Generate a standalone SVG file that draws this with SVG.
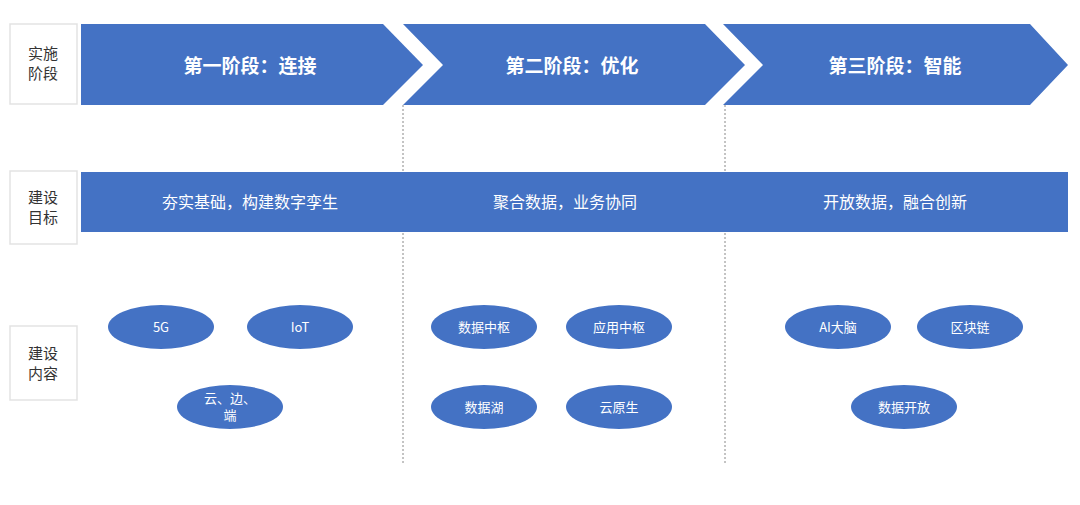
<svg xmlns="http://www.w3.org/2000/svg" width="1080" height="505" viewBox="0 0 1080 505">
<style>
.f{fill:#4472c4}
.lb{fill:#fff;stroke:#e3e3e3;stroke-width:1.5}
.lt{font-family:"Noto Sans CJK SC",sans-serif;font-size:15px;fill:#333;text-anchor:middle}
.h{font-family:"Noto Sans CJK SC",sans-serif;font-size:19px;font-weight:bold;fill:#fff;text-anchor:middle}
.g{font-family:"Noto Sans CJK SC",sans-serif;font-size:16px;fill:#fff;text-anchor:middle}
.e{font-family:"Noto Sans CJK SC","Liberation Sans",sans-serif;font-size:13px;fill:#fff;text-anchor:middle}
.d{stroke:#888;stroke-width:1;stroke-dasharray:2 2;fill:none}
</style>
<rect width="1080" height="505" fill="#fff"/>
<g id="labels">
<g id="label-stage"><rect class="lb" x="10" y="24" width="67" height="80"/><text class="lt" x="43" y="59">实施</text><text class="lt" x="43" y="79">阶段</text></g>
<g id="label-goal"><rect class="lb" x="10" y="171" width="67" height="73"/><text class="lt" x="43" y="203">建设</text><text class="lt" x="43" y="223">目标</text></g>
<g id="label-content"><rect class="lb" x="10" y="326" width="67" height="74"/><text class="lt" x="43" y="359">建设</text><text class="lt" x="43" y="379">内容</text></g>
</g>
<g id="connectors">
<line class="d" x1="403" y1="105" x2="403" y2="465"/>
<line class="d" x1="725" y1="105" x2="725" y2="465"/>
</g>
<g id="stage1"><polygon class="f" points="81,24 383,24 423,65 383,105 81,105"/><text class="h" x="250" y="73">第一阶段：连接</text></g>
<g id="stage2"><polygon class="f" points="403,24 705,24 745,65 705,105 403,105 443,65"/><text class="h" x="572" y="73">第二阶段：优化</text></g>
<g id="stage3"><polygon class="f" points="723,24 1030,24 1068,65 1030,105 723,105 763,65"/><text class="h" x="895" y="73">第三阶段：智能</text></g>
<g id="goal"><rect class="f" x="81" y="172" width="987" height="60"/>
<text class="g" x="250" y="208">夯实基础，构建数字孪生</text>
<text class="g" x="565" y="208">聚合数据，业务协同</text>
<text class="g" x="895" y="208">开放数据，融合创新</text></g>
<g id="n-5g"><ellipse class="f" cx="161" cy="327" rx="53" ry="22"/><text class="e" x="161" y="332">5G</text></g>
<g id="n-iot"><ellipse class="f" cx="300" cy="327" rx="53" ry="22"/><text class="e" x="300" y="332">IoT</text></g>
<g id="n-cloud"><ellipse class="f" cx="230" cy="407" rx="53" ry="22"/><text class="e" x="230" y="403">云、边、</text><text class="e" x="230" y="420">端</text></g>
<g id="n-dc"><ellipse class="f" cx="484" cy="327" rx="53" ry="22"/><text class="e" x="484" y="332">数据中枢</text></g>
<g id="n-ac"><ellipse class="f" cx="619" cy="327" rx="53" ry="22"/><text class="e" x="619" y="332">应用中枢</text></g>
<g id="n-lake"><ellipse class="f" cx="484" cy="407" rx="53" ry="22"/><text class="e" x="484" y="412">数据湖</text></g>
<g id="n-cn"><ellipse class="f" cx="619" cy="407" rx="53" ry="22"/><text class="e" x="619" y="412">云原生</text></g>
<g id="n-ai"><ellipse class="f" cx="838" cy="327" rx="53" ry="22"/><text class="e" x="838" y="332">AI大脑</text></g>
<g id="n-bc"><ellipse class="f" cx="970" cy="327" rx="53" ry="22"/><text class="e" x="970" y="332">区块链</text></g>
<g id="n-open"><ellipse class="f" cx="904" cy="407" rx="53" ry="22"/><text class="e" x="904" y="412">数据开放</text></g>
</svg>
